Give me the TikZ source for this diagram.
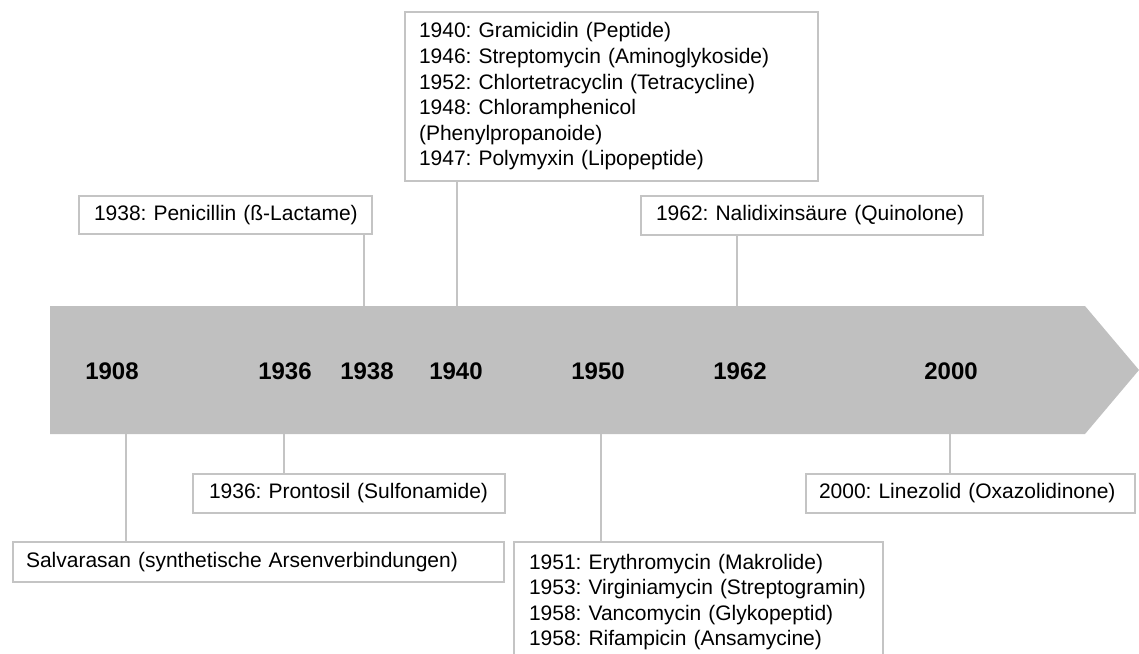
\documentclass[tikz,border=0pt]{standalone}
\usepackage{fontspec}
\setmainfont{Liberation Sans}
\usetikzlibrary{positioning}

\definecolor{bargray}{RGB}{192,192,192}
\definecolor{linegray}{RGB}{196,196,196}
\frenchspacing
\hyphenpenalty=10000
\exhyphenpenalty=10000

\begin{document}
\begin{tikzpicture}[x=0.5pt,y=-0.5pt,
	event/.style={draw=linegray, line width=1pt, fill=white, anchor=north west,
		align=left, inner ysep=0pt, font=\fontsize{10.5}{12.8}\selectfont},
	year/.style={font=\fontsize{12}{14}\selectfont\bfseries},
	stem/.style={draw=linegray, line width=1pt}]
			\clip (0,0) rectangle (1139,653);
			% time bar
			\fill[bargray] (50,306) -- (1085,306) -- (1139,370) -- (1085,434) -- (50,434) -- cycle;
			\node[year] (y1908) at (112,371) {1908};
			\node[year] (y1936) at (285,371) {1936};
			\node[year] (y1938) at (367,371) {1938};
			\node[year] (y1940) at (456,371) {1940};
			\node[year] (y1950) at (598,371) {1950};
			\node[year] (y1962) at (740,371) {1962};
			\node[year] (y2000) at (951,371) {2000};
			% feet of the stems on the bar
			\coordinate (t1938) at (364,306);
			\coordinate (t1940) at (457,306);
			\coordinate (t1962) at (737,306);
			\coordinate (b1908) at (126,434);
			\coordinate (b1936) at (284,434);
			\coordinate (b1950) at (601,434);
			\coordinate (b2000) at (950,434);
			% boxes above
			\node[event, inner xsep=7pt, text width=192.5pt, minimum height=84.5pt] (gram) at (404,11)
				{1940: Gramicidin (Peptide)\\
				1946: Streptomycin (Aminoglykoside)\\
				1952: Chlortetracyclin (Tetracycline)\\
				1948: Chloramphenicol\\
				(Phenylpropanoide)\\
				1947: Polymyxin (Lipopeptide)};
			\node[event, inner xsep=7.5pt, text width=131.5pt, minimum height=19pt] (pen) at (78,195)
				{\mbox{1938: Penicillin (ß-Lactame)}};
			\node[event, inner xsep=7.5pt, text width=156pt, minimum height=19.5pt] (nal) at (640,195)
				{1962: Nalidixinsäure (Quinolone)};
			% boxes below
			\node[event, inner xsep=8pt, text width=140pt, minimum height=19.5pt] (pron) at (192,473)
				{1936: Prontosil (Sulfonamide)};
			\node[event, inner xsep=6.5pt, text width=232.5pt, minimum height=20pt] (sal) at (12,541)
				{Salvarasan (synthetische Arsenverbindungen)};
			\node[event, inner xsep=7.5pt, text width=169.5pt, minimum height=60pt] (ery) at (513,541)
				{1951: Erythromycin (Makrolide)\\
				1953: Virginiamycin (Streptogramin)\\
				1958: Vancomycin (Glykopeptid)\\
				1958: Rifampicin (Ansamycine)};
			\node[event, inner xsep=6.5pt, text width=151.5pt, minimum height=19.5pt] (lin) at (805,473)
				{2000: Linezolid (Oxazolidinone)};
			% stems
			\draw[stem] (t1938) -- (t1938 |- pen.south);
			\draw[stem] (t1940) -- (t1940 |- gram.south);
			\draw[stem] (t1962) -- (t1962 |- nal.south);
			\draw[stem] (b1908) -- (b1908 |- sal.north);
			\draw[stem] (b1936) -- (b1936 |- pron.north);
			\draw[stem] (b1950) -- (b1950 |- ery.north);
			\draw[stem] (b2000) -- (b2000 |- lin.north);
		\end{tikzpicture}
\end{document}
